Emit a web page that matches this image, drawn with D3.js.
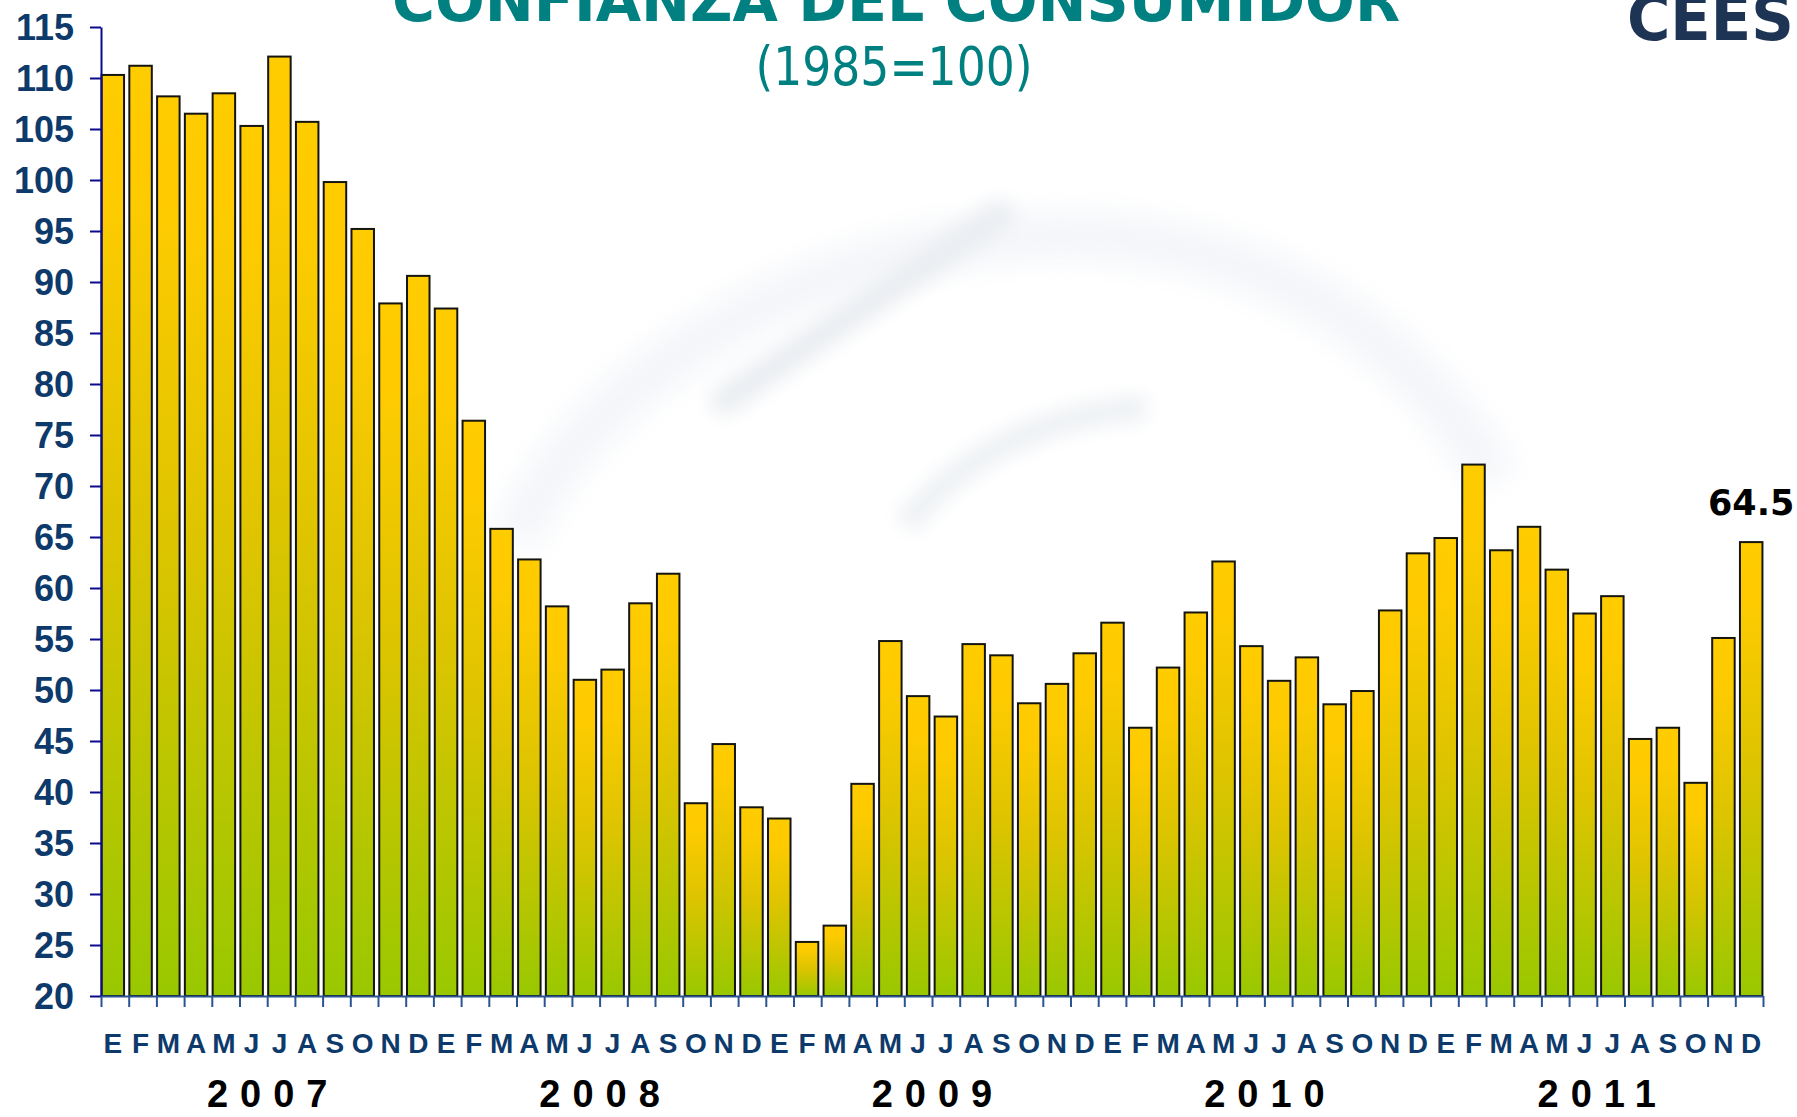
<!DOCTYPE html>
<html>
<head>
<meta charset="utf-8">
<script src="https://cdn.jsdelivr.net/npm/d3@7"></script>
<style>
    body { margin: 0; background: #ffffff; }
    svg { display: block; }
</style>
</head>
<body>
<div id="chart"></div>
<script>
// Data
var years = ["2007", "2008", "2009", "2010", "2011"];
var months = ["E", "F", "M", "A", "M", "J", "J", "A", "S", "O", "N", "D"];
var values2007 = [110.3, 111.2, 108.2, 106.5, 108.5, 105.3, 112.1, 105.7, 99.8, 95.2, 87.9, 90.6];
var values2008 = [87.4, 76.4, 65.8, 62.8, 58.2, 51.0, 52.0, 58.5, 61.4, 38.9, 44.7, 38.5];
var values2009 = [37.4, 25.3, 26.9, 40.8, 54.8, 49.4, 47.4, 54.5, 53.4, 48.7, 50.6, 53.6];
var values2010 = [56.6, 46.3, 52.2, 57.6, 62.6, 54.3, 50.9, 53.2, 48.6, 49.9, 57.8, 63.4];
var values2011 = [64.9, 72.1, 63.7, 66.0, 61.8, 57.5, 59.2, 45.2, 46.3, 40.9, 55.1, 64.5];
var yTicks = [20, 25, 30, 35, 40, 45, 50, 55, 60, 65, 70, 75, 80, 85, 90, 95, 100, 105, 110, 115];
var lastLabel = "64.5";

var title = "CONFIANZA DEL CONSUMIDOR",
    subtitle = "(1985=100)",
    logo = "CEESP";

(function () {
    "use strict";

    const width = 1797,
        height = 1117,
        left = 101,
        right = 1763,
        top = 27,
        bottom = 996;

    const navy = "#0d3a6b",
        teal = "#008080";

    // flatten the yearly series into one list of bars
    var allValues = [values2007, values2008, values2009, values2010, values2011];
    var bars = [];
    allValues.forEach(function (vals, yi) {
        vals.forEach(function (v, mi) {
            bars.push({ id: years[yi] + "-" + mi, year: years[yi], month: months[mi], value: v });
        });
    });

    const svg = d3.select("#chart").append("svg")
        .attr("width", width)
        .attr("height", height);

    const defs = svg.append("defs");

    const grad = defs.append("linearGradient")
        .attr("id", "barGrad")
        .attr("x1", 0).attr("y1", 0)
        .attr("x2", 0).attr("y2", 1);
    grad.append("stop").attr("offset", "0").attr("stop-color", "#ffcc00");
    grad.append("stop").attr("offset", "0.12").attr("stop-color", "#ffcb00");
    grad.append("stop").attr("offset", "0.5").attr("stop-color", "#dcc400");
    grad.append("stop").attr("offset", "1").attr("stop-color", "#99c800");

    [["blur14", 14], ["blur9", 9]].forEach(function (b) {
        defs.append("filter").attr("id", b[0])
            .attr("x", "-20%").attr("y", "-20%").attr("width", "140%").attr("height", "140%")
            .append("feGaussianBlur").attr("stdDeviation", b[1]);
    });

    // very faint watermark swoosh behind the plot
    const wm = svg.append("g").attr("class", "watermark");
    wm.append("path")
        .attr("d", "M 515 540 C 640 250, 1250 60, 1495 480")
        .attr("fill", "none")
        .attr("stroke", "#f4f6f9")
        .attr("stroke-width", 50)
        .attr("filter", "url(#blur14)");
    wm.append("path")
        .attr("d", "M 725 400 L 1000 215")
        .attr("fill", "none")
        .attr("stroke", "#ebeef2")
        .attr("stroke-width", 30)
        .attr("stroke-linecap", "round")
        .attr("filter", "url(#blur9)");
    wm.append("path")
        .attr("d", "M 905 525 Q 990 420 1146 407")
        .attr("fill", "none")
        .attr("stroke", "#eef1f4")
        .attr("stroke-width", 26)
        .attr("filter", "url(#blur9)");

    // scales
    const x = d3.scaleBand()
        .domain(bars.map(d => d.id))
        .range([left, right])
        .paddingInner(0.19)
        .paddingOuter(0.02);

    const xTick = d3.scaleLinear()
        .domain([0, bars.length])
        .range([left, right]);

    const y = d3.scaleLinear()
        .domain([20, 115])
        .range([bottom, top]);

    // bars
    svg.append("g").attr("class", "bars")
        .selectAll("rect")
        .data(bars)
        .join("rect")
        .attr("x", d => x(d.id))
        .attr("y", d => y(d.value))
        .attr("width", x.bandwidth())
        .attr("height", d => y(20) - y(d.value))
        .attr("fill", "url(#barGrad)")
        .attr("stroke", "#151510")
        .attr("stroke-width", 2);

    // y axis
    const yAxis = svg.append("g")
        .attr("transform", `translate(${left},0)`)
        .call(d3.axisLeft(y).tickValues(yTicks).tickSize(11).tickSizeOuter(0).tickPadding(16));
    yAxis.select(".domain").attr("stroke", "#0a0a8a").attr("stroke-width", 2);
    yAxis.selectAll(".tick line").attr("stroke", "#0a0a8a").attr("stroke-width", 2);
    yAxis.selectAll(".tick text")
        .attr("fill", navy)
        .style("font-family", "Liberation Sans, Arial, sans-serif")
        .style("font-weight", "bold")
        .style("font-size", "36px")
        .attr("dy", "0.36em");

    // x axis: ticks on band boundaries
    const xAxis = svg.append("g")
        .attr("transform", `translate(0,${bottom})`)
        .call(d3.axisBottom(xTick).tickValues(d3.range(bars.length + 1)).tickSize(11).tickSizeOuter(0).tickFormat(""));
    xAxis.select(".domain").attr("stroke", "#2a5590").attr("stroke-width", 2);
    xAxis.selectAll(".tick line").attr("stroke", "#2a5590").attr("stroke-width", 2);

    // month labels
    svg.append("g").attr("class", "months")
        .selectAll("text")
        .data(bars)
        .join("text")
        .attr("x", d => x(d.id) + x.bandwidth() / 2)
        .attr("y", 1053)
        .attr("text-anchor", "middle")
        .attr("fill", navy)
        .style("font-family", "Liberation Sans, Arial, sans-serif")
        .style("font-weight", "bold")
        .style("font-size", "28px")
        .text(d => d.month);

    // year labels, centred under each group of twelve
    svg.append("g").attr("class", "years")
        .selectAll("text")
        .data(years)
        .join("text")
        .attr("x", (d, i) => (xTick(i * 12) + xTick(i * 12 + 12)) / 2 + 6)
        .attr("y", 1107)
        .attr("text-anchor", "middle")
        .attr("fill", "#000000")
        .style("font-family", "Liberation Sans, Arial, sans-serif")
        .style("font-weight", "bold")
        .style("font-size", "38px")
        .style("letter-spacing", "12px")
        .text(d => d);

    // label on the last bar
    var last = bars[bars.length - 1];
    svg.append("text")
        .attr("x", x(last.id) + x.bandwidth() / 2)
        .attr("y", y(last.value) - 27)
        .attr("text-anchor", "middle")
        .attr("fill", "#000000")
        .style("font-family", "DejaVu Sans, Verdana, sans-serif")
        .style("font-weight", "bold")
        .style("font-size", "35px")
        .text(lastLabel);

    // titles
    svg.append("text")
        .attr("x", 896)
        .attr("y", 21)
        .attr("text-anchor", "middle")
        .attr("fill", teal)
        .attr("textLength", 1008)
        .attr("lengthAdjust", "spacingAndGlyphs")
        .style("font-family", "DejaVu Sans, Verdana, sans-serif")
        .style("font-weight", "bold")
        .style("font-size", "59px")
        .text(title);

    svg.append("text")
        .attr("x", 894)
        .attr("y", 85)
        .attr("text-anchor", "middle")
        .attr("fill", teal)
        .attr("textLength", 277)
        .attr("lengthAdjust", "spacingAndGlyphs")
        .style("font-family", "DejaVu Sans Condensed, DejaVu Sans, sans-serif")
        .style("font-size", "54px")
        .text(subtitle);

    // logo, cut by the page edge
    svg.append("text")
        .attr("x", 1627)
        .attr("y", 40)
        .attr("fill", "#1d3455")
        .attr("textLength", 210)
        .attr("lengthAdjust", "spacingAndGlyphs")
        .style("font-family", "DejaVu Sans Condensed, DejaVu Sans, sans-serif")
        .style("font-weight", "bold")
        .style("font-size", "62px")
        .text(logo);
})();
</script>
</body>
</html>
